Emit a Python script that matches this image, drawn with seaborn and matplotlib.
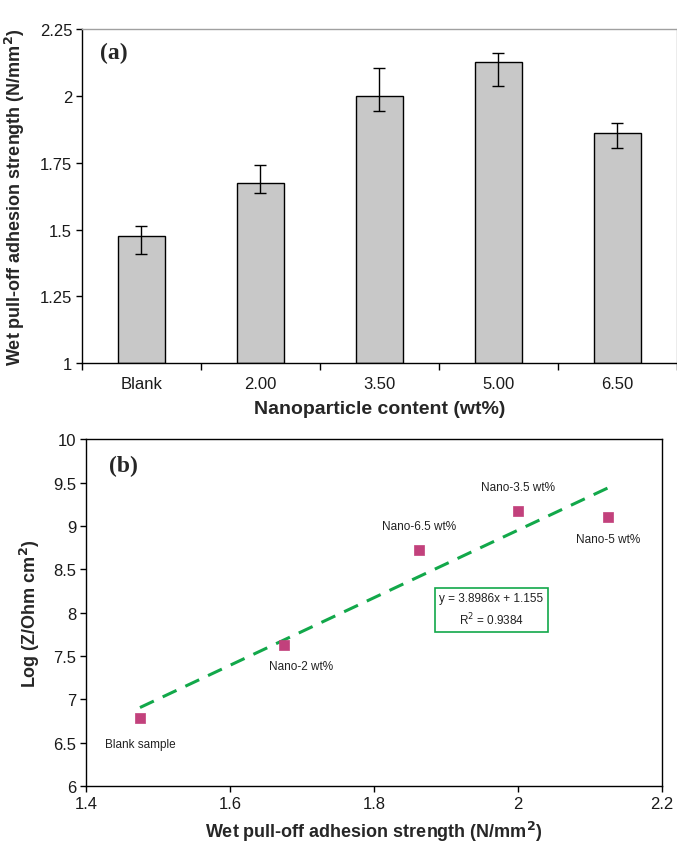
import matplotlib
matplotlib.use("Agg")
import matplotlib.pyplot as plt
import seaborn as sns
import pandas as pd
import numpy as np
from matplotlib.ticker import FuncFormatter, FixedLocator

sns.set_theme(style="white")
plt.rcParams['font.family'] = ['Liberation Sans', 'DejaVu Sans']

# ---- data panel (a)
categories = ["Blank", "2.00", "3.50", "5.00", "6.50"]
strength = [1.475, 1.675, 2.0, 2.125, 1.862]
err_low = [1.41, 1.635, 1.945, 2.035, 1.805]
err_high = [1.515, 1.74, 2.105, 2.16, 1.90]

# ---- data panel (b)
point_labels = ["Blank sample", "Nano-2 wt%", "Nano-6.5 wt%", "Nano-3.5 wt%", "Nano-5 wt%"]
adhesion = [1.475, 1.675, 1.862, 2.0, 2.125]
log_z = [6.78, 7.63, 8.72, 9.17, 9.10]
slope = 3.8986
intercept = 1.155
r2 = 0.9384

fig = plt.figure(figsize=(6.77, 8.45), dpi=100)

def style_ticklabels(ax, size=12):
    for lab in ax.get_xticklabels() + ax.get_yticklabels():
        lab.set_fontsize(size)
        lab.set_color("#1a1a1a")

# ---------------- panel (a)
ax1 = fig.add_axes([0.121, 0.569, 0.879, 0.3955])
df_a = pd.DataFrame({"cat": categories, "val": strength})
sns.barplot(data=df_a, x="cat", y="val", ax=ax1, color="#C8C8C8",
            edgecolor="black", linewidth=1.0, width=0.39, saturation=1, errorbar=None)
for b in ax1.patches:
    b.set_y(1.0)
    b.set_height(b.get_height() - 1.0)
xs = np.arange(len(categories))
vals = np.array(strength)
yerr = np.vstack([vals - np.array(err_low), np.array(err_high) - vals])
ax1.errorbar(xs, vals, yerr=yerr, fmt="none", ecolor="black", elinewidth=1.0, capsize=4, capthick=1.0)
ax1.set_ylim(1.0, 2.25)
ax1.set_xlim(-0.5, 4.5)
ax1.yaxis.set_major_locator(FixedLocator([1, 1.25, 1.5, 1.75, 2, 2.25]))
ax1.yaxis.set_major_formatter(FuncFormatter(lambda v, p: f"{v:g}"))
ax1.set_xticks(xs)
ax1.set_xticklabels(categories)
ax1.set_xticks(np.arange(-0.5, 5.0, 1.0), minor=True)
ax1.tick_params(axis="x", which="major", length=0, pad=9)
ax1.tick_params(axis="x", which="minor", length=5, width=1, color="black", direction="out", bottom=True)
ax1.tick_params(axis="y", length=4, width=1, color="black", direction="out", left=True, pad=3)
style_ticklabels(ax1)
for s in ["left", "bottom"]:
    ax1.spines[s].set_color("black")
    ax1.spines[s].set_linewidth(1.0)
for s in ["top", "right"]:
    ax1.spines[s].set_color("#A0A0A0")
    ax1.spines[s].set_linewidth(1.0)
ax1.set_xlabel("Nanoparticle content (wt%)", fontsize=14, fontweight="bold", labelpad=7)
ax1.set_ylabel("Wet pull-off adhesion strength (N/mm$^\\mathbf{2}$)", fontsize=13, fontweight="bold", labelpad=9)
ax1.text(0.03, 0.93, "(a)", transform=ax1.transAxes, fontsize=17, fontweight="bold",
         family=["Liberation Serif"], va="center")

# ---------------- panel (b)
ax2 = fig.add_axes([0.127, 0.0686, 0.851, 0.4104])
df_b = pd.DataFrame({"x": adhesion, "y": log_z, "lab": point_labels})
xfit = np.array([min(adhesion), max(adhesion)])
df_fit = pd.DataFrame({"x": xfit, "y": slope * xfit + intercept})
sns.lineplot(data=df_fit, x="x", y="y", ax=ax2, color="#12A84A", linewidth=2.2,
             linestyle=(0, (5, 3.2)))
sns.scatterplot(data=df_b, x="x", y="y", ax=ax2, marker="s", s=55, color="#C2417C",
                edgecolor="#C2417C", linewidth=0.5, zorder=3)
offsets = [(0.0, -0.3), (0.023, -0.25), (0.0, 0.28), (0.0, 0.28), (0.0, -0.25)]
for (x, y, lab), (dx, dy) in zip(zip(adhesion, log_z, point_labels), offsets):
    ax2.text(x + dx, y + dy, lab, ha="center", va="center", fontsize=8.5, color="#222222")
ax2.text(1.963, 8.03, f"y = {slope}x + {intercept}\nR$^2$ = {r2}", ha="center", va="center",
         fontsize=8.5, color="#222222", linespacing=1.5,
         bbox=dict(boxstyle="square,pad=0.4", facecolor="white", edgecolor="#12A84A", linewidth=1.2))
ax2.set_xlim(1.4, 2.2)
ax2.set_ylim(6, 10)
ax2.xaxis.set_major_locator(FixedLocator([1.4, 1.6, 1.8, 2.0, 2.2]))
ax2.yaxis.set_major_locator(FixedLocator([6, 6.5, 7, 7.5, 8, 8.5, 9, 9.5, 10]))
ax2.xaxis.set_major_formatter(FuncFormatter(lambda v, p: f"{v:g}"))
ax2.yaxis.set_major_formatter(FuncFormatter(lambda v, p: f"{v:g}"))
ax2.tick_params(axis="both", length=4, width=1, color="black", direction="out",
                left=True, bottom=True, pad=3)
style_ticklabels(ax2)
for s in ax2.spines.values():
    s.set_color("black")
    s.set_linewidth(1.0)
ax2.set_xlabel("Wet pull-off adhesion strength (N/mm$^\\mathbf{2}$)", fontsize=13, fontweight="bold",
               labelpad=6)
ax2.set_ylabel("Log (Z/Ohm cm$^\\mathbf{2}$)", fontsize=13, fontweight="bold", labelpad=8)
ax2.text(0.04, 0.925, "(b)", transform=ax2.transAxes, fontsize=17, fontweight="bold",
         family=["Liberation Serif"], va="center")
if ax2.get_legend():
    ax2.get_legend().remove()

fig.savefig("out.png", dpi=100)
